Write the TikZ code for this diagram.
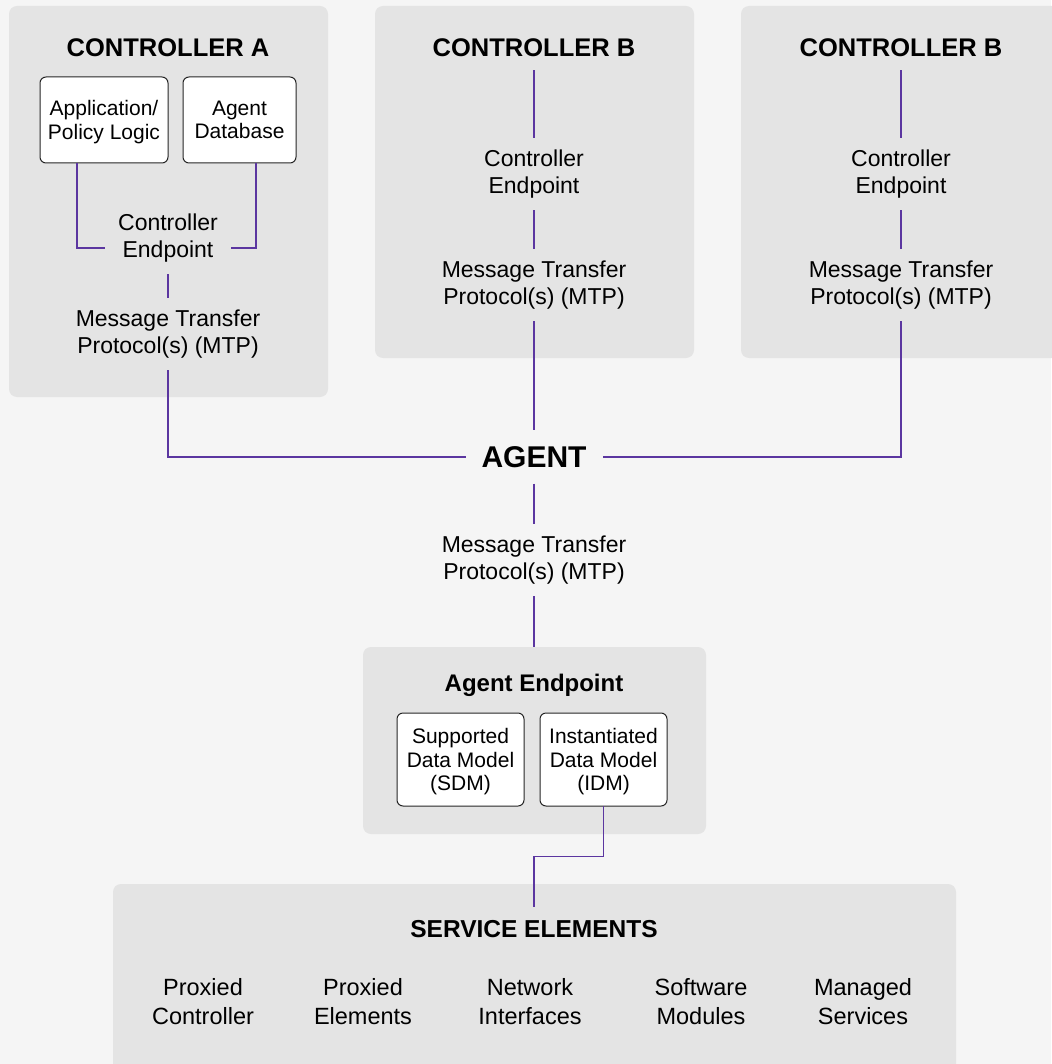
\documentclass[tikz,border=0pt]{standalone}
\usepackage{fontspec}
\setmainfont{Liberation Sans}
\usetikzlibrary{calc}
\definecolor{bgcol}{HTML}{F5F5F5}
\definecolor{panelcol}{HTML}{E4E4E4}
\definecolor{linkcol}{HTML}{5B36A0}
\newcommand\bodysize{\fontsize{23}{27}\selectfont}
\newcommand\boxsize{\fontsize{21}{23.5}\selectfont}
\begin{document}
\begin{tikzpicture}[x=1pt,y=-1pt,
    panel/.style={fill=panelcol,rounded corners=8pt,inner sep=0pt,outer sep=0pt},
    title/.style={font=\bfseries\fontsize{25.5}{30}\selectfont,inner sep=0pt,outer ysep=13pt},
    lbl/.style={font=\bodysize,align=center,inner sep=0pt,outer xsep=13pt,outer ysep=12pt},
    modbox/.style={draw=black!85,line width=1pt,fill=white,rounded corners=6pt,align=center,
        font=\boxsize,inner sep=0pt,outer sep=0pt,text depth=0pt},
    link/.style={draw=linkcol,line width=1.4pt}]
        \useasboundingbox (0,0) rectangle (1051,1064);
        \fill[bgcol] (0,0) rectangle (1051,1064);

        % Panels
        \node[panel,minimum width=319,minimum height=391] (pnlA) at (168.5,201.5) {};
        \node[panel,minimum width=319,minimum height=352] (pnlB) at (534.5,182) {};
        \node[panel,minimum width=319,minimum height=352] (pnlC) at (900.5,182) {};
        \node[panel,minimum width=343,minimum height=187] (aep) at (534.5,740.5) {};
        \node[panel,minimum width=843,minimum height=206] (svc) at (534.5,987) {};

        % Controller A
        \node[title] (ctlA) at (168,48) {CONTROLLER A};
        \node[modbox,minimum width=128,minimum height=86] (app) at (104,120) {Application/\\Policy Logic};
        \node[modbox,minimum width=113,minimum height=86] (adb) at (239.5,120) {Agent\\Database};
        \node[lbl] (cepA) at (168,238) {Controller\\Endpoint};
        \node[lbl] (mtpA) at (168,334) {Message Transfer\\Protocol(s) (MTP)};
        \draw[link] ([xshift=-27pt]app.south) |- ([yshift=-10pt]cepA.west);
        \draw[link] ([xshift=16.5pt]adb.south) |- ([yshift=-10pt]cepA.east);
        \draw[link] (cepA) -- (mtpA);

        % Controller B
        \node[title] (ctlB) at (534,48) {CONTROLLER B};
        \node[lbl] (cepB) at (534,174) {Controller\\Endpoint};
        \node[lbl] (mtpB) at (534,285) {Message Transfer\\Protocol(s) (MTP)};
        \draw[link] (ctlB) -- (cepB);
        \draw[link] (cepB) -- (mtpB);

        % Controller B (rechts)
        \node[title] (ctlC) at (901,48) {CONTROLLER B};
        \node[lbl] (cepC) at (901,174) {Controller\\Endpoint};
        \node[lbl] (mtpC) at (901,285) {Message Transfer\\Protocol(s) (MTP)};
        \draw[link] (ctlC) -- (cepC);
        \draw[link] (cepC) -- (mtpC);

        % Agent
        \node[font=\bfseries\fontsize{30}{34}\selectfont,inner sep=0pt,outer xsep=16pt,outer ysep=16pt] (agent) at (534,457) {AGENT};
        \node[lbl] (mtpAg) at (534,560) {Message Transfer\\Protocol(s) (MTP)};
        \draw[link] (mtpA) |- (agent);
        \draw[link] (mtpB) -- (agent);
        \draw[link] (mtpC) |- (agent);
        \draw[link] (agent) -- (mtpAg);
        \draw[link] (mtpAg) -- (mtpAg |- aep.north);

        % Agent Endpoint
        \node[title,font=\bfseries\fontsize{24}{28}\selectfont] (aepT) at (534,685) {Agent Endpoint};
        \node[modbox,minimum width=127,minimum height=93] (sdm) at (460.5,759.5) {Supported\\Data Model\\(SDM)};
        \node[modbox,minimum width=127,minimum height=93] (idm) at (603.5,759.5) {Instantiated\\Data Model\\(IDM)};

        % Service Elements
        \node[title,font=\bfseries\fontsize{24.5}{28}\selectfont] (svcT) at (534,929) {SERVICE ELEMENTS};
        \draw[link] (idm.south) |- ($(idm.south)!.5!(svcT.north)$) -| (svcT.north);
        \foreach \x/\txt [count=\i] in {203/{Proxied\\Controller},363/{Proxied\\Elements},
                530/{Network\\Interfaces},701/{Software\\Modules},863/{Managed\\Services}}
            \node[font=\fontsize{23.5}{29}\selectfont,align=center,inner sep=0pt] (svc\i) at (\x,1002) {\txt};
    \end{tikzpicture}
\end{document}
